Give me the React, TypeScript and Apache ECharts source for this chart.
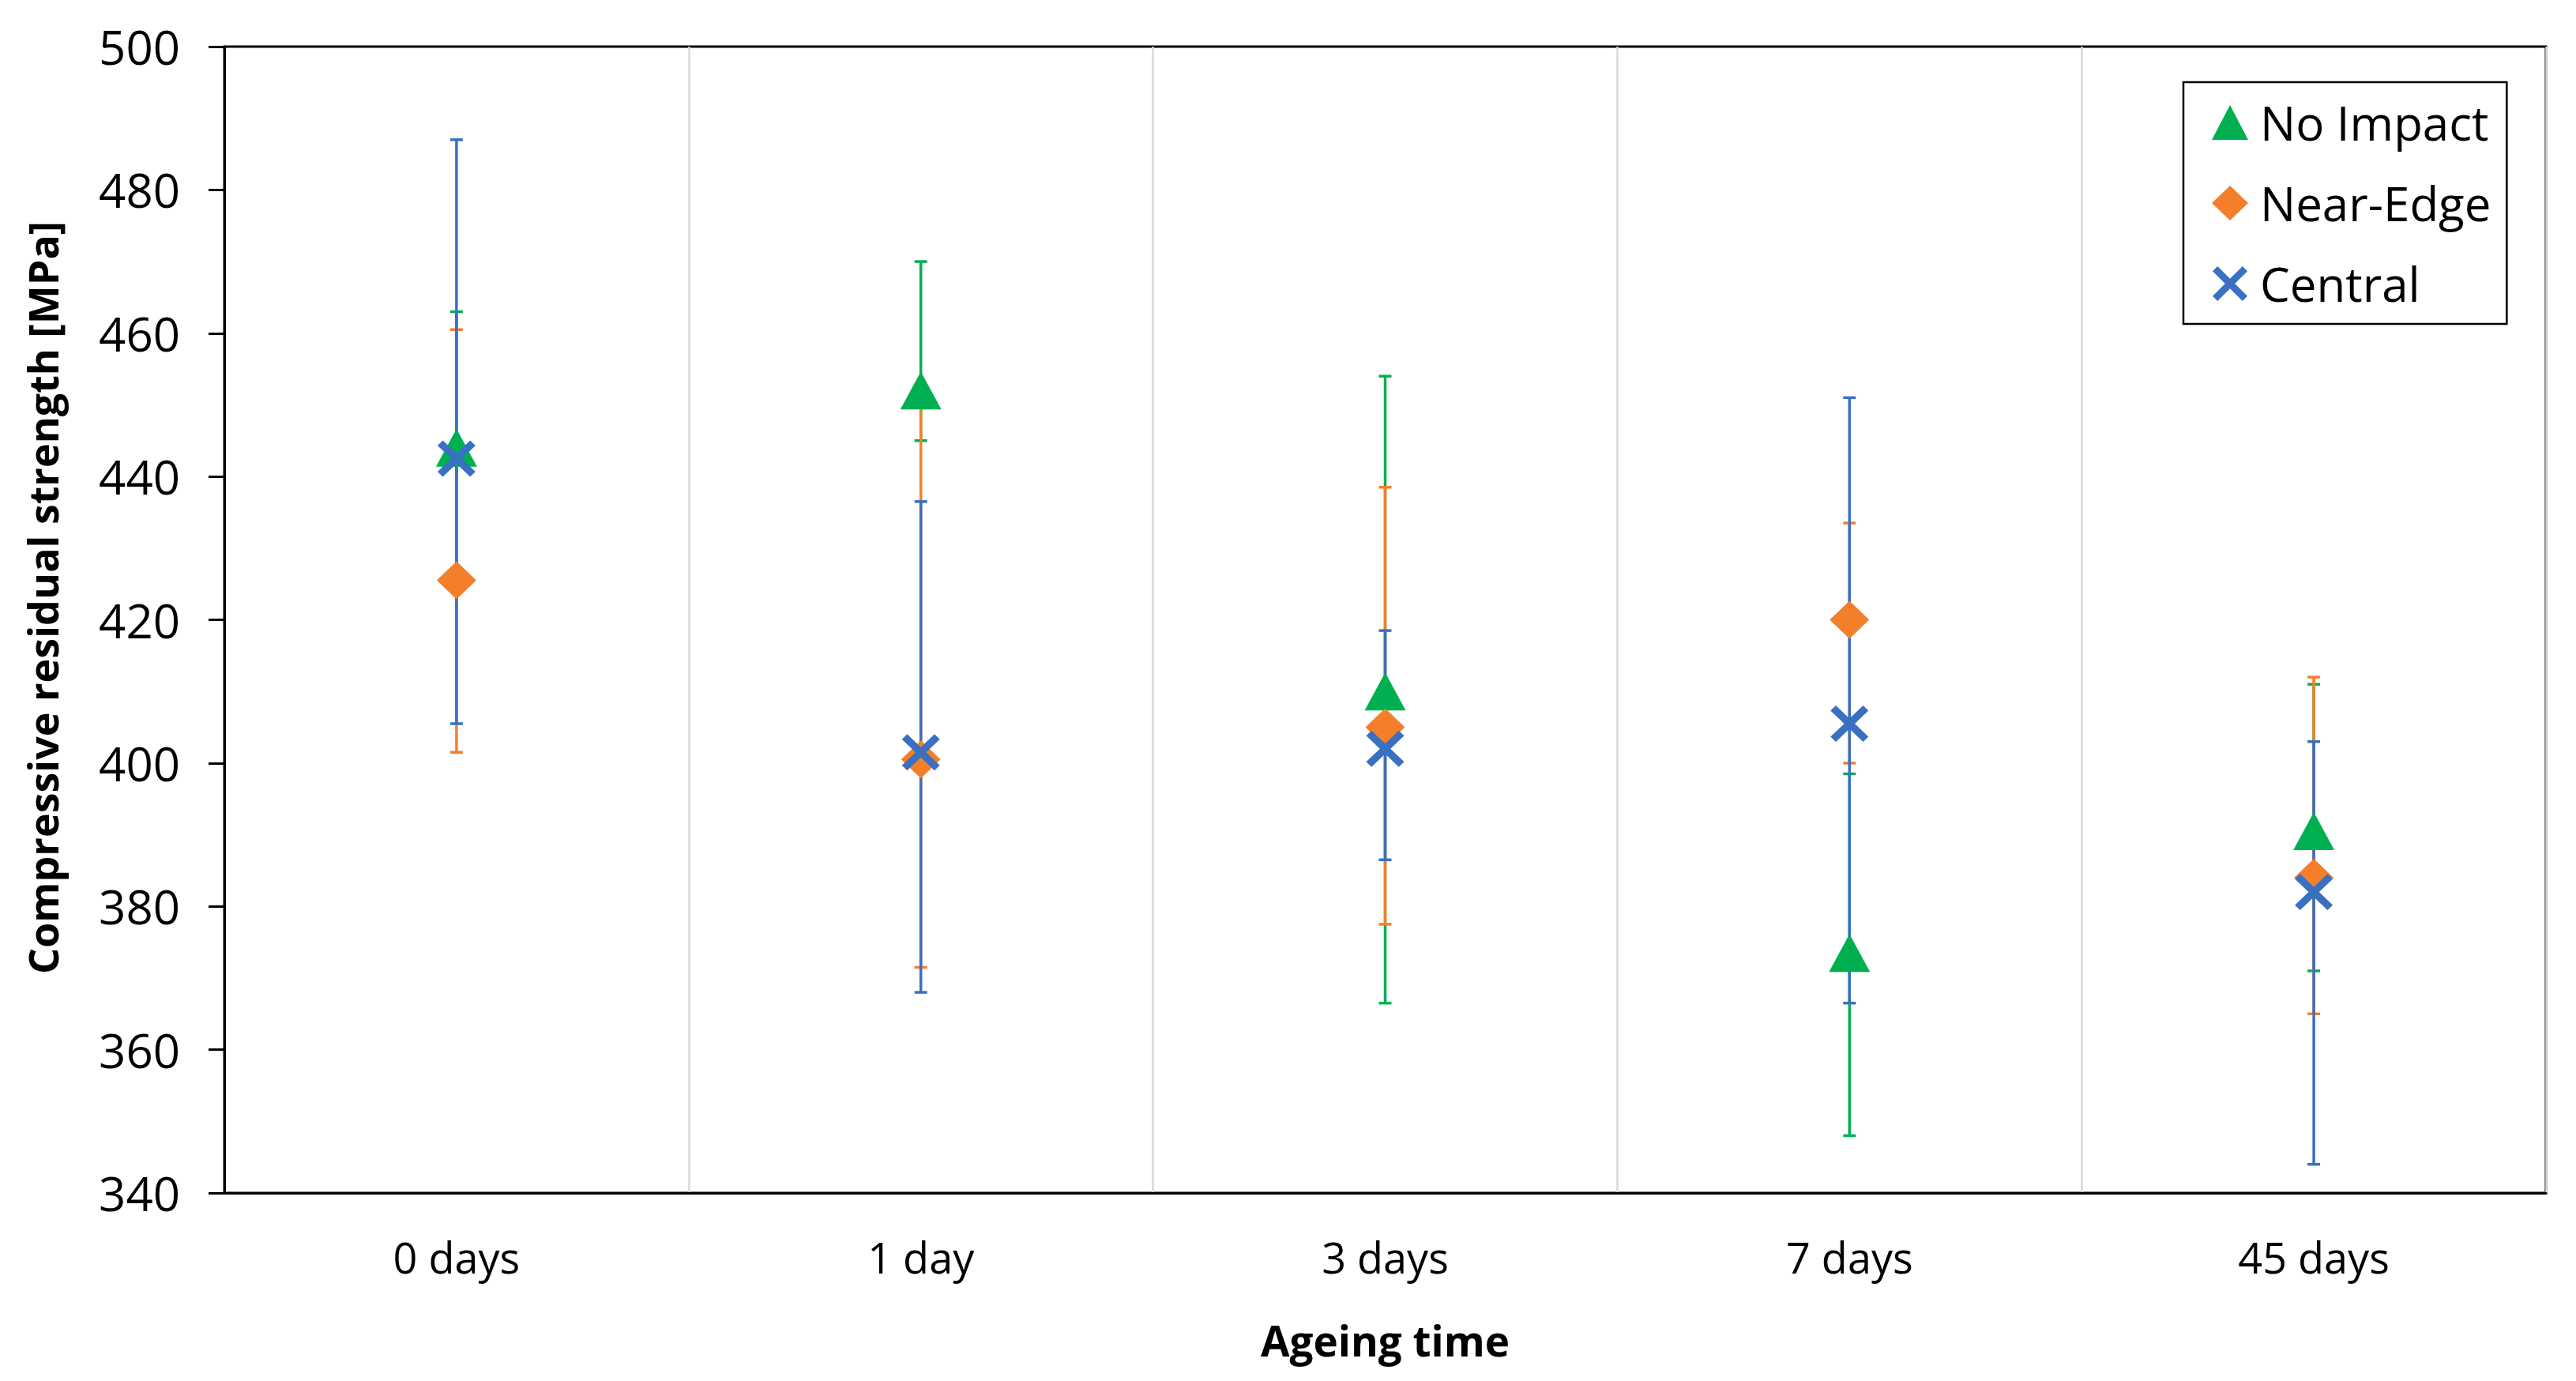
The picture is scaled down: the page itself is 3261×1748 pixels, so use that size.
import React, { useEffect, useRef } from "react";
import * as echarts from "echarts";

const categories = ["0 days", "1 day", "3 days", "7 days", "45 days"];

const noImpact = [444, 452, 410, 373.5, 390.5];
const noImpactHi = [463, 470, 454, 398.5, 411];
const noImpactLo = [425, 445, 366.5, 348, 371];

const nearEdge = [425.5, 400.5, 405, 420, 384];
const nearEdgeHi = [460.5, 450, 438.5, 433.5, 412];
const nearEdgeLo = [401.5, 371.5, 377.5, 400, 365];

const central = [442.5, 401.5, 402, 405.5, 382];
const centralHi = [487, 436.5, 418.5, 451, 403];
const centralLo = [405.5, 368, 386.5, 366.5, 344];

const yTicks = { min: 340, max: 500, interval: 20 };

const GREEN = "#00B050";
const ORANGE = "#F47F2A";
const BLUE = "#3A70C2";
const FONT = "Open Sans";

const X_PATH =
  "path://M0,14 L14,0 L50,36 L86,0 L100,14 L64,50 L100,86 L86,100 L50,64 L14,100 L0,86 L36,50 Z";

function errorSeries(name: string, lo: number[], hi: number[], color: string, z: number) {
  return {
    type: "custom",
    name: name + "-err",
    z,
    silent: true,
    legendHoverLink: false,
    data: lo.map((l, i) => [i, l, hi[i]]),
    encode: { x: 0, y: [1, 2] },
    renderItem: (params: any, api: any) => {
      const x = api.value(0);
      const pLo = api.coord([x, api.value(1)]);
      const pHi = api.coord([x, api.value(2)]);
      const cap = 8;
      const style = { stroke: color, lineWidth: 3.5 };
      return {
        type: "group",
        children: [
          { type: "line", shape: { x1: pLo[0], y1: pLo[1], x2: pHi[0], y2: pHi[1] }, style },
          { type: "line", shape: { x1: pHi[0] - cap, y1: pHi[1], x2: pHi[0] + cap, y2: pHi[1] }, style },
          { type: "line", shape: { x1: pLo[0] - cap, y1: pLo[1], x2: pLo[0] + cap, y2: pLo[1] }, style },
        ],
      };
    },
  };
}

export default function App() {
  const ref = useRef<HTMLDivElement>(null);
  useEffect(() => {
    if (!ref.current) return;
    const chart = echarts.init(ref.current, undefined, { renderer: "svg" });
    chart.setOption({
      animation: false,
      backgroundColor: "#ffffff",
      textStyle: { fontFamily: FONT, color: "#000" },
      grid: {
        left: 284,
        right: 38,
        top: 59,
        bottom: 238,
        show: true,
        borderColor: "#000",
        borderWidth: 3,
        backgroundColor: "transparent",
      },
      legend: {
        left: 2764,
        top: 104,
        orient: "vertical",
        backgroundColor: "#fff",
        borderColor: "#000",
        borderWidth: 2.5,
        borderRadius: 0,
        padding: [20, 20, 20, 36],
        itemWidth: 46,
        itemHeight: 44,
        itemGap: 40,
        selectedMode: false,
        textStyle: { fontFamily: FONT, fontSize: 60, color: "#000", lineHeight: 62, padding: [0, 0, 0, 10] },
        data: [
          { name: "No Impact", icon: "triangle" },
          { name: "Near-Edge", icon: "diamond" },
          { name: "Central", icon: X_PATH },
        ],
      },
      xAxis: {
        type: "category",
        data: categories,
        boundaryGap: true,
        axisLine: { show: true, lineStyle: { color: "#000", width: 3 } },
        axisTick: { show: false },
        axisLabel: { fontFamily: FONT, fontSize: 54, color: "#000", margin: 54 },
        splitLine: { show: true, lineStyle: { color: "#d9d9d9", width: 2.5 } },
        name: "Ageing time",
        nameLocation: "middle",
        nameGap: 160,
        nameTextStyle: { fontFamily: FONT, fontSize: 53, fontWeight: "bold", color: "#000" },
      },
      yAxis: {
        type: "value",
        min: yTicks.min,
        max: yTicks.max,
        interval: yTicks.interval,
        axisLine: { show: true, lineStyle: { color: "#000", width: 3 } },
        axisTick: { show: true, length: 20, lineStyle: { color: "#000", width: 3 } },
        axisLabel: { fontFamily: FONT, fontSize: 60, color: "#000", margin: 56 },
        splitLine: { show: false },
        name: "Compressive residual strength [MPa]",
        nameLocation: "middle",
        nameGap: 205,
        nameRotate: 90,
        nameTextStyle: {
          fontFamily: FONT,
          fontSize: 52,
          fontWeight: "bold",
          color: "#000",
          padding: [0, 0, 0, 56],
        },
      },
      series: [
        errorSeries("No Impact", noImpactLo, noImpactHi, GREEN, 2),
        errorSeries("Near-Edge", nearEdgeLo, nearEdgeHi, ORANGE, 3),
        errorSeries("Central", centralLo, centralHi, BLUE, 4),
        {
          type: "scatter",
          name: "No Impact",
          z: 10,
          data: noImpact,
          symbol: "triangle",
          symbolSize: [52, 48],
          itemStyle: { color: GREEN, opacity: 1 },
        },
        {
          type: "scatter",
          name: "Near-Edge",
          z: 11,
          data: nearEdge,
          symbol: "diamond",
          symbolSize: [50, 48],
          itemStyle: { color: ORANGE, opacity: 1 },
        },
        {
          type: "scatter",
          name: "Central",
          z: 12,
          data: central,
          symbol: X_PATH,
          symbolSize: [48, 46],
          itemStyle: { color: BLUE, opacity: 1 },
        },
      ],
    });
    return () => chart.dispose();
  }, []);
  return (
    <div
      ref={ref}
      style={{ position: "fixed", left: 0, top: 0, width: 3261, height: 1748, background: "#fff" }}
    />
  );
}
